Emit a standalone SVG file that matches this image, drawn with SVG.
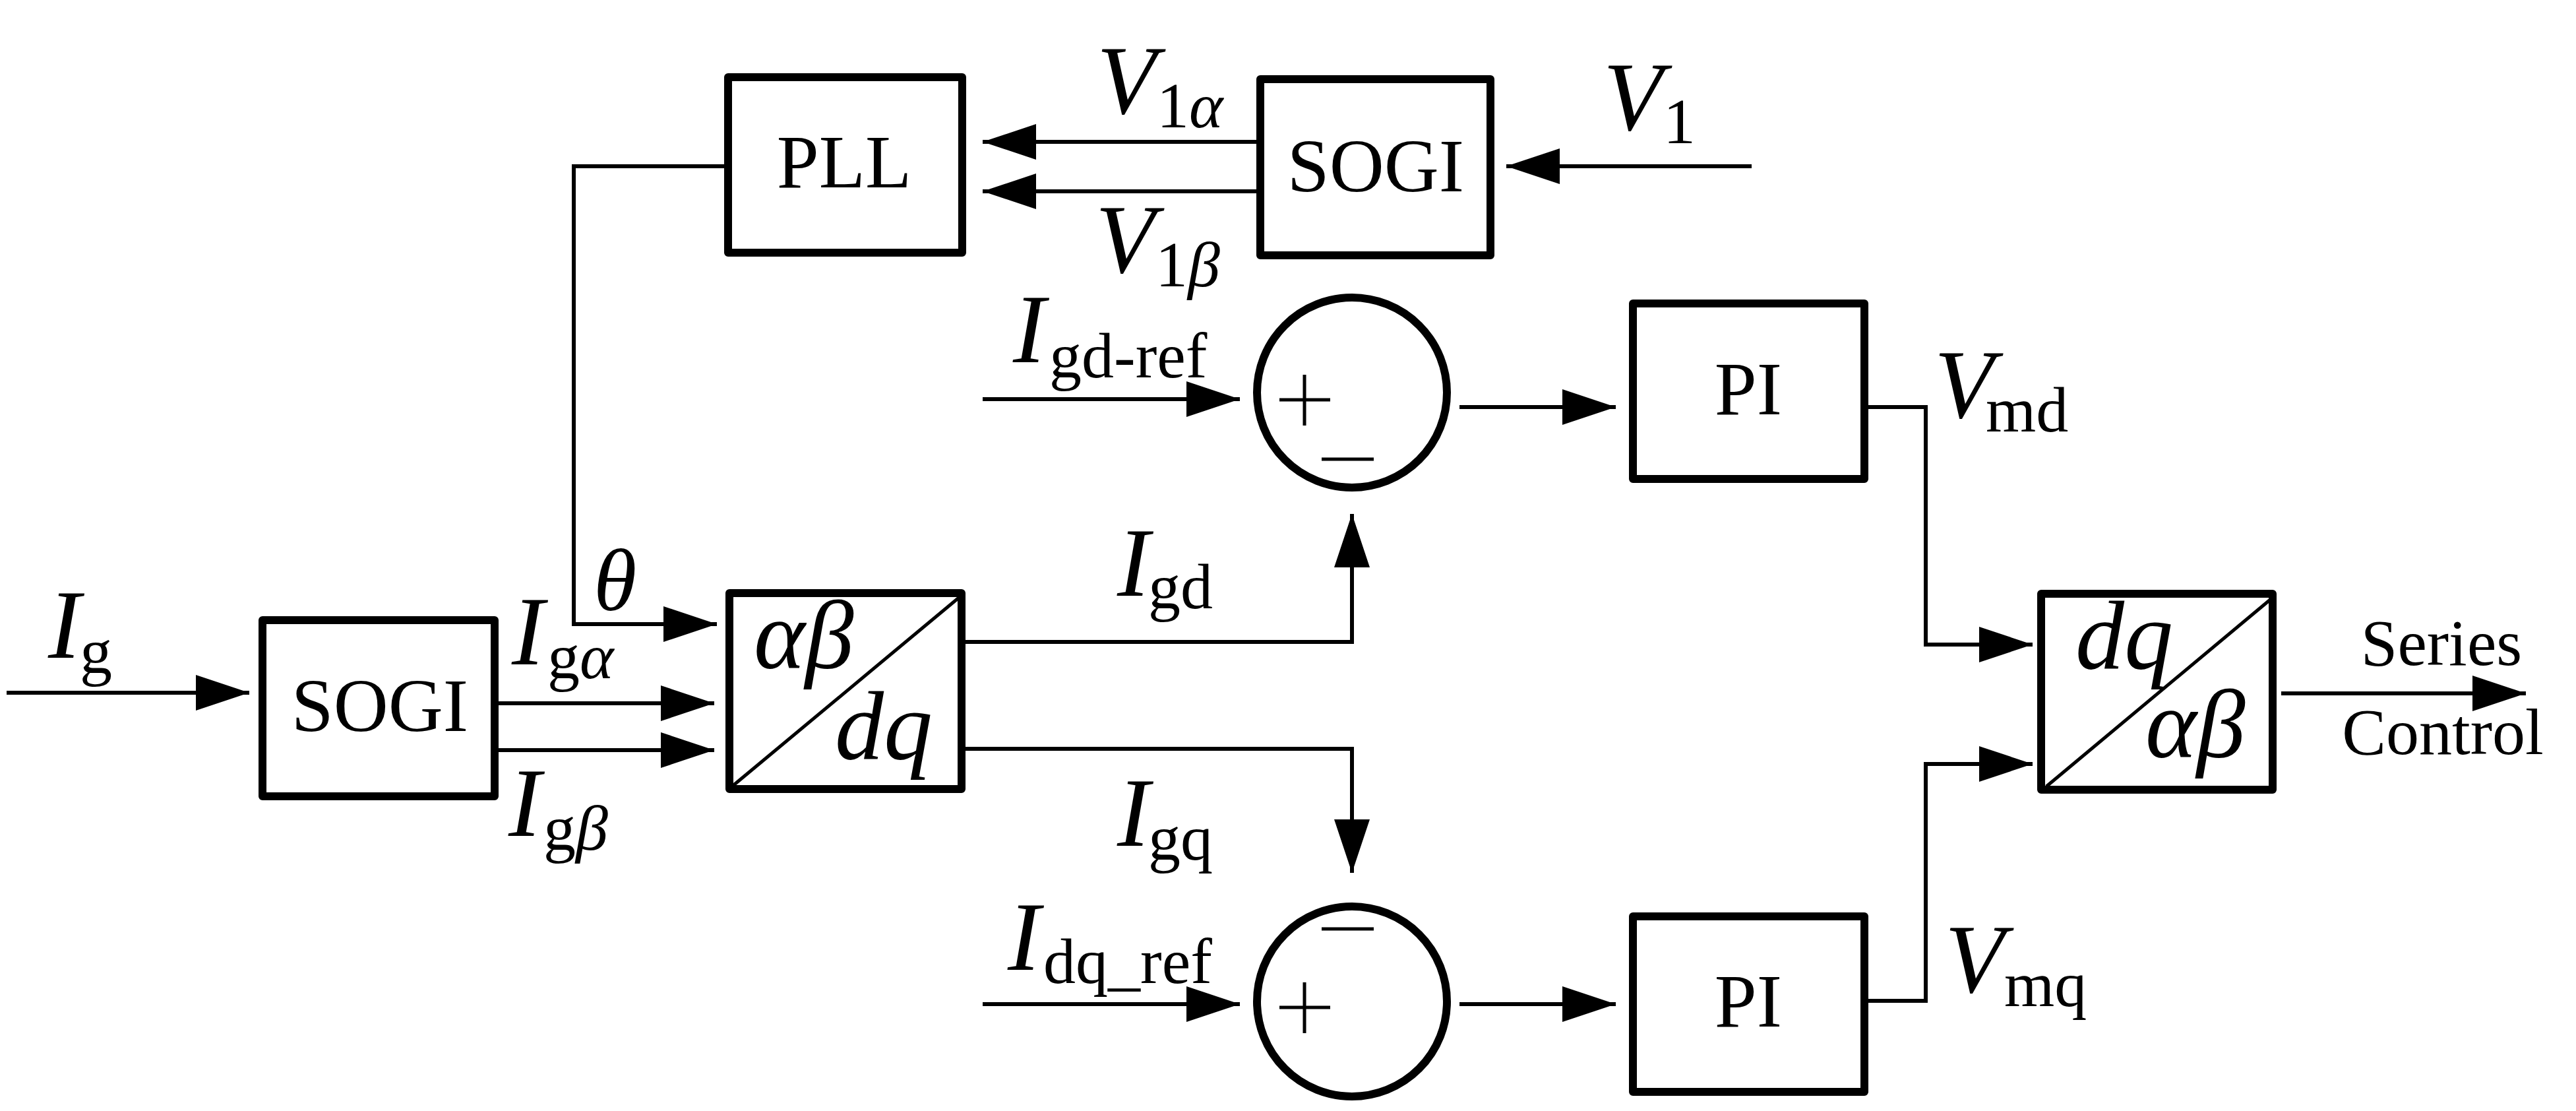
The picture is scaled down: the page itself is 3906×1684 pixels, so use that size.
<svg xmlns="http://www.w3.org/2000/svg" width="3906" height="1684" viewBox="0 0 3906 1684">
<style>
text{font-family:"Liberation Serif","Times New Roman",serif;fill:#000}
.blk{font-size:115px;text-anchor:middle}
.v{font-size:148px;font-style:italic}
.s{font-size:98px;font-style:normal}
.gi{font-style:italic}
.box{fill:#fff;stroke:#000;stroke-width:12;stroke-linejoin:round}
.sum{fill:#fff;stroke:#000;stroke-width:12}
.sign{stroke:#000;stroke-width:5;fill:none}
.diag{stroke:#000;stroke-width:5;fill:none}
.ca{fill:none;stroke:#000;stroke-width:6;marker-end:url(#ah)}
.out{font-size:100px;text-anchor:middle}
</style>
<defs>
<marker id="ah" markerUnits="userSpaceOnUse" markerWidth="81" markerHeight="54" refX="81" refY="27" orient="auto">
<path d="M0,0 L81,27 L0,54 Z" fill="#000"/>
</marker>
</defs>
<rect width="3906" height="1684" fill="#fff"/>

<g id="connectors">
<polyline class="ca" points="1098,252 870,252 870,946 1087,946"/>
<line class="ca" x1="2656" y1="252" x2="2284" y2="252"/>
<line class="ca" x1="1905" y1="215" x2="1490" y2="215"/>
<line class="ca" x1="1905" y1="290" x2="1490" y2="290"/>
<line class="ca" x1="10" y1="1050" x2="378" y2="1050"/>
<line class="ca" x1="756" y1="1066" x2="1083" y2="1066"/>
<line class="ca" x1="756" y1="1137" x2="1083" y2="1137"/>
<polyline class="ca" points="1464,973 2050,973 2050,779"/>
<polyline class="ca" points="1464,1135 2050,1135 2050,1323"/>
<line class="ca" x1="1490" y1="605" x2="1880" y2="605"/>
<line class="ca" x1="2213" y1="617" x2="2450" y2="617"/>
<line class="ca" x1="1490" y1="1522" x2="1880" y2="1522"/>
<line class="ca" x1="2213" y1="1522" x2="2450" y2="1522"/>
<polyline class="ca" points="2833,617 2920,617 2920,977 3082,977"/>
<polyline class="ca" points="2833,1517 2920,1517 2920,1158 3082,1158"/>
<line class="ca" x1="3459" y1="1051" x2="3830" y2="1051"/>
</g>

<g id="pll">
<rect class="box" x="1104" y="117" width="355" height="266"/>
<text class="blk" x="1280" y="284">PLL</text>
</g>

<g id="sogi-v">
<rect class="box" x="1911" y="120" width="349" height="267"/>
<text class="blk" x="2086" y="290">SOGI</text>
</g>

<g id="sogi-i">
<rect class="box" x="398" y="940" width="352" height="267"/>
<text class="blk" x="576" y="1108">SOGI</text>
</g>

<g id="abc-dq">
<rect class="box" x="1106" y="899" width="352" height="297"/>
<line class="diag" x1="1110" y1="1192" x2="1455" y2="905"/>
<text class="v" x="1143" y="1013">αβ</text>
<text class="v" x="1266" y="1150">dq</text>
</g>

<g id="sum-d">
<circle class="sum" cx="2050" cy="595" r="144"/>
<path class="sign" d="M1978,568 V645 M1940,606 H2017"/>
<path class="sign" d="M2004,696 H2083"/>
</g>

<g id="sum-q">
<circle class="sum" cx="2050" cy="1518" r="144"/>
<path class="sign" d="M2004,1408 H2083"/>
<path class="sign" d="M1978,1489 V1566 M1940,1527 H2017"/>
</g>

<g id="pi-d">
<rect class="box" x="2476" y="460" width="351" height="266"/>
<text class="blk" x="2651" y="628">PI</text>
</g>

<g id="pi-q">
<rect class="box" x="2476" y="1389" width="351" height="266"/>
<text class="blk" x="2651" y="1556">PI</text>
</g>

<g id="dq-ab">
<rect class="box" x="3095" y="900" width="351" height="297"/>
<line class="diag" x1="3103" y1="1192" x2="3447" y2="905"/>
<text class="v" x="3147" y="1013">dq</text>
<text class="v" x="3253" y="1148">αβ</text>
</g>

<g id="labels">
<text class="v" x="1663" y="172">V<tspan class="s" x="1754" y="193">1<tspan class="gi">α</tspan></tspan></text>
<text class="v" x="1661" y="413">V<tspan class="s" x="1752" y="434">1<tspan class="gi">β</tspan></tspan></text>
<text class="v" x="2431" y="197">V<tspan class="s" x="2522" y="217">1</tspan></text>
<text class="v" x="73" y="997">I<tspan class="s" x="121" y="1020">g</tspan></text>
<text class="v" x="776" y="1007">I<tspan class="s" x="830" y="1028">g<tspan class="gi">α</tspan></tspan></text>
<text class="v" x="771" y="1267">I<tspan class="s" x="824" y="1288">g<tspan class="gi">β</tspan></tspan></text>
<text class="v" x="900" y="925" style="font-size:133px">θ</text>
<text class="v" x="1536" y="549">I<tspan class="s" x="1591" y="572">gd-ref</tspan></text>
<text class="v" x="1694" y="903">I<tspan class="s" x="1741" y="922">gd</tspan></text>
<text class="v" x="1694" y="1282">I<tspan class="s" x="1741" y="1303">gq</tspan></text>
<text class="v" x="1528" y="1470">I<tspan class="s" x="1582" y="1490">dq_ref</tspan></text>
<text class="v" x="2933" y="633">V<tspan class="s" x="3011" y="654">md</tspan></text>
<text class="v" x="2949" y="1504">V<tspan class="s" x="3039" y="1525">mq</tspan></text>
<text class="out" x="3702" y="1008">Series</text>
<text class="out" x="3704" y="1143">Control</text>
</g>
</svg>
